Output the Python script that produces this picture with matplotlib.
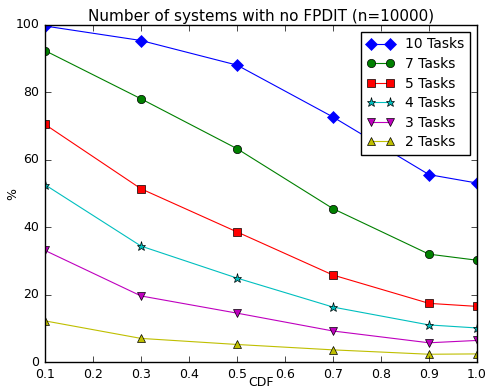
import matplotlib
matplotlib.use("Agg")
import matplotlib.pyplot as plt

plt.style.use('classic')

cdf = [0.1, 0.3, 0.5, 0.7, 0.9, 1.0]
labels = ["10 Tasks", "7 Tasks", "5 Tasks", "4 Tasks", "3 Tasks", "2 Tasks"]
t10 = [99.7, 95.4, 88.1, 72.7, 55.6, 53.1]
t7 = [92.4, 78.1, 63.3, 45.5, 32.0, 30.2]
t5 = [70.5, 51.4, 38.6, 25.8, 17.4, 16.5]
t4 = [52.6, 34.4, 24.9, 16.3, 11.0, 10.1]
t3 = [33.1, 19.6, 14.5, 9.2, 5.7, 6.4]
t2 = [12.2, 7.0, 5.2, 3.6, 2.3, 2.4]

series = [t10, t7, t5, t4, t3, t2]
markers = ['D', 'o', 's', '*', 'v', '^']
colors = ['b', 'g', 'r', 'c', 'm', 'y']

fig = plt.figure(figsize=(4.86, 3.89), dpi=100)
ax = fig.add_axes([45/486, 1-362/389, (477-45)/486, (362-25)/389])
for vals, m, c, lab in zip(series, markers, colors, labels):
    ax.plot(cdf, vals, marker=m, color=c, label=lab, linewidth=0.8,
            markersize=6 if m != '*' else 6.5, markeredgewidth=0.5,
            markeredgecolor='k' if m != 'D' else c)

ax.set_xlim(0.1, 1.0)
ax.set_ylim(0, 100)
ax.set_xticks([0.1, 0.2, 0.3, 0.4, 0.5, 0.6, 0.7, 0.8, 0.9, 1.0])
ax.set_yticks([0, 20, 40, 60, 80, 100])
ax.tick_params(labelsize=9)
ax.set_xlabel("CDF", fontsize=9, labelpad=-3)
ax.set_ylabel("%", fontsize=9, labelpad=-2.5)
ax.set_title("Number of systems with no FPDIT (n=10000)", fontsize=11, pad=3)
ax.legend(loc='upper right', fontsize=10, numpoints=2, borderaxespad=0.5,
          handlelength=2.0, labelspacing=0.4)
fig.savefig("out.png", dpi=100)
